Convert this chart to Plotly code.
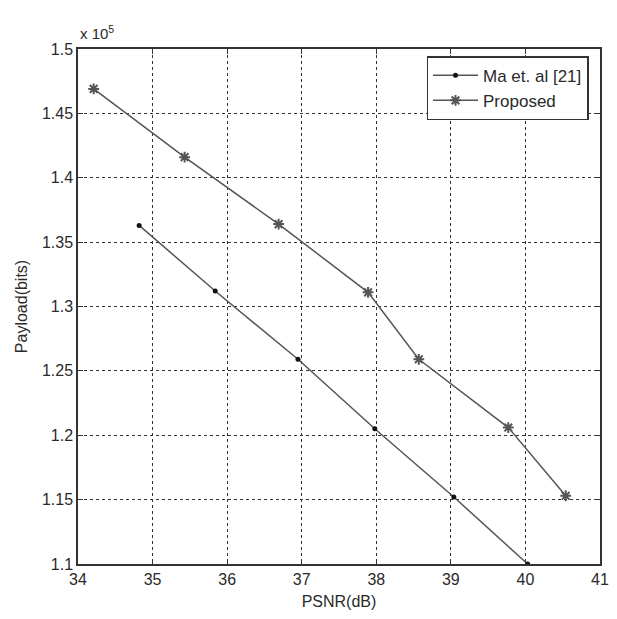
import plotly.graph_objects as go

# Data (payload in bits)
ma_psnr = [34.82, 35.84, 36.95, 37.98, 39.04, 40.03]
ma_payload = [136300, 131200, 125900, 120500, 115200, 110000]
prop_psnr = [34.21, 35.43, 36.69, 37.89, 38.57, 39.77, 40.54]
prop_payload = [146900, 141600, 136400, 131100, 125900, 120600, 115300]

x_ticks = [34, 35, 36, 37, 38, 39, 40, 41]
y_tickvals = [110000, 115000, 120000, 125000, 130000, 135000, 140000, 145000, 150000]
y_ticktext = ["1.1", "1.15", "1.2", "1.25", "1.3", "1.35", "1.4", "1.45", "1.5"]

FONT = "Liberation Sans, Arial"
TXT = "#2a2a2a"

fig = go.Figure()
fig.add_trace(go.Scatter(
    x=ma_psnr, y=ma_payload, name="Ma et. al [21]", mode="lines+markers",
    line=dict(color="#555555", width=1.5),
    marker=dict(symbol="circle", size=5, color="#111111"),
))
fig.add_trace(go.Scatter(
    x=prop_psnr, y=prop_payload, name="Proposed", mode="lines+markers",
    line=dict(color="#555555", width=1.5),
    marker=dict(symbol="asterisk-open", size=9, line=dict(color="#111111", width=2)),
))

axis_common = dict(
    showline=True, linecolor="#333333", linewidth=1.5, mirror="ticks",
    ticks="inside", ticklen=5, tickcolor="#333333",
    showgrid=True, gridcolor="#333333", griddash="dot", gridwidth=1,
    zeroline=False, automargin=False,
    tickfont=dict(family=FONT, size=16, color=TXT),
)

fig.update_xaxes(range=[34, 41], tickvals=x_ticks,
                 title=dict(text="PSNR(dB)", font=dict(family=FONT, size=16, color=TXT), standoff=9),
                 **axis_common)
fig.update_yaxes(range=[110000, 150000], tickvals=y_tickvals, ticktext=y_ticktext,
                 title=dict(text="Payload(bits)", font=dict(family=FONT, size=16, color=TXT), standoff=10),
                 **axis_common)

fig.add_annotation(text="x 10<sup>5</sup>", xref="paper", yref="paper", x=0.0, y=1.0,
                   xanchor="left", yanchor="bottom", showarrow=False, yshift=5,
                   font=dict(family=FONT, size=15, color=TXT))

fig.update_layout(
    width=601, height=603,
    margin=dict(l=70, r=9, t=41, b=47),
    paper_bgcolor="white", plot_bgcolor="white",
    showlegend=True,
    legend=dict(x=0.978, y=0.986, xanchor="right", yanchor="top",
                bgcolor="white", bordercolor="#333333", borderwidth=1.5,
                font=dict(family=FONT, size=17, color=TXT),
                tracegroupgap=4, itemwidth=45),
)

fig.write_html("out.html")
